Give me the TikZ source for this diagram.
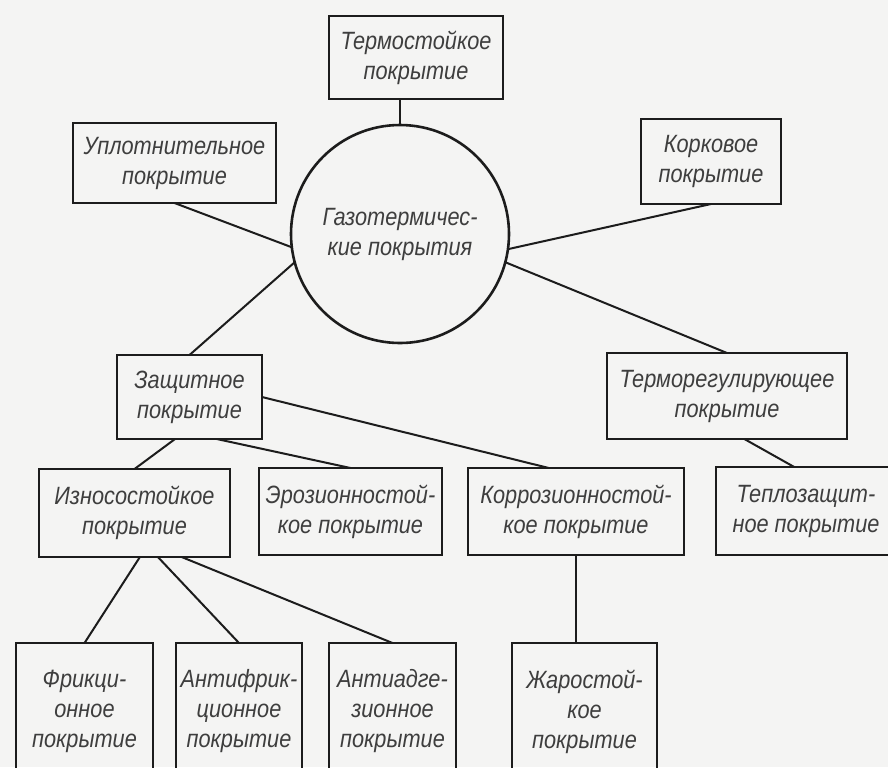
\documentclass[tikz,border=0pt]{standalone}
\usepackage{fontspec}
\setmainfont{Liberation Sans}
\newfontfamily\draftfont{Liberation Sans}[FakeStretch=0.87]
\usepackage{tikz}
\definecolor{paper}{HTML}{F4F4F3}
\definecolor{ink}{HTML}{1C1C1C}
\tikzset{
    coating/.style={
            draw=ink,
            line width=1.3pt,
            rectangle,
            inner sep=0pt,
            outer sep=0pt,
            align=center,
            text=ink!85,
            font=\draftfont\itshape\fontsize{12.5}{15}\selectfont
        },
    hub/.style={
            coating,
            circle,
            minimum size=109pt
        },
    link/.style={
            ink,
            line width=1pt
        }
}
\begin{document}
\begin{tikzpicture}[x=0.5pt, y=-0.5pt]
        \useasboundingbox (0,0) rectangle (888,767);
        \clip (0,0) rectangle (888,767);
        \fill[paper] (0,0) rectangle (888,767);

        \node[hub] (gaz) at (400,234) {Газотермичес-\\кие покрытия};
        \node[coating, minimum width=87pt, minimum height=41.5pt] (term) at (416,57.5) {Термостойкое\\покрытие};
        \node[coating, minimum width=101.5pt, minimum height=40pt] (upl) at (174.5,163) {Уплотнительное\\покрытие};
        \node[coating, minimum width=70pt, minimum height=42.5pt] (kork) at (711,161.5) {Корковое\\покрытие};
        \node[coating, minimum width=72.5pt, minimum height=42pt] (zasch) at (189.5,397) {Защитное\\покрытие};
        \node[coating, minimum width=120pt, minimum height=43pt] (termreg) at (727,396) {Терморегулирующее\\покрытие};
        \node[coating, minimum width=95.5pt, minimum height=44pt] (izn) at (134.5,513) {Износостойкое\\покрытие};
        \node[coating, minimum width=91.5pt, minimum height=43.5pt] (eroz) at (350.5,511.5) {Эрозионностой-\\кое покрытие};
        \node[coating, minimum width=108pt, minimum height=43.5pt] (korr) at (576,511.5) {Коррозионностой-\\кое покрытие};
        \node[coating, minimum width=90pt, minimum height=44pt] (teplo) at (806,511) {Теплозащит-\\ное покрытие};
        \node[coating, minimum width=68.5pt, minimum height=68.5pt] (frik) at (84.5,711.5) {Фрикци-\\онное\\покрытие};
        \node[coating, minimum width=63pt, minimum height=68.5pt] (antifrik) at (239,711.5) {Антифрик-\\ционное\\покрытие};
        \node[coating, minimum width=63.5pt, minimum height=68.5pt] (antiadg) at (392.5,711.5) {Антиадге-\\зионное\\покрытие};
        \node[coating, minimum width=72.5pt, minimum height=68.5pt] (zhar) at (584.5,711.5) {Жаростой-\\кое\\покрытие};

        \draw[link] (gaz.north) -- (gaz.north |- term.south);
        \draw[link] (upl.south) -- (gaz.187);
        \draw[link] (kork.south) -- (gaz.-8);
        \draw[link] (zasch.north) -- (gaz.195);
        \draw[link] (termreg.north) -- (gaz.-15);
        \draw[link] (zasch.251) -- (izn.north);
        \draw[link] (zasch.303) -- (eroz.north);
        \draw[link] (zasch.east) -- (korr.122);
        \draw[link] (termreg.-68) -- (teplo.105);
        \draw[link] (izn.-83) -- (frik.north);
        \draw[link] (izn.-62) -- (antifrik.north);
        \draw[link] (izn.-43) -- (antiadg.north);
        \draw[link] (korr.south) -- (korr.south |- zhar.north);

    \end{tikzpicture}
\end{document}
